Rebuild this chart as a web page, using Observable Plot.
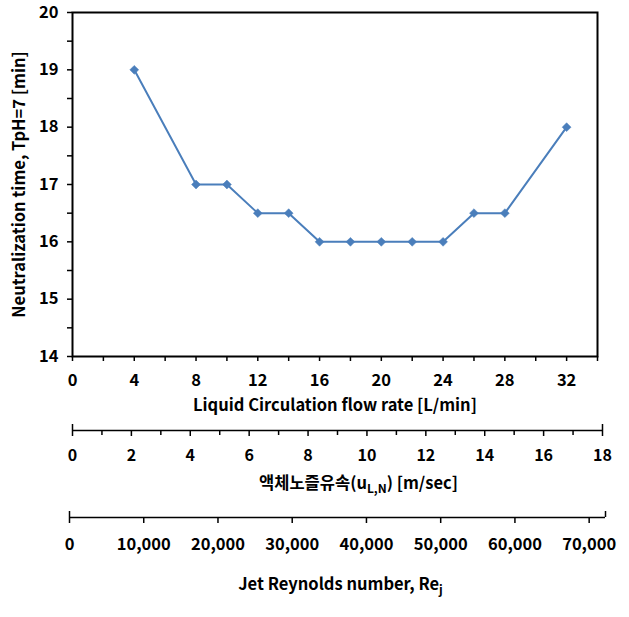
<!DOCTYPE html>
<html><head><meta charset="utf-8">
<script src="https://cdn.jsdelivr.net/npm/d3@7"></script>
<script src="https://cdn.jsdelivr.net/npm/@observablehq/plot@0.6"></script>
<style>
body{margin:0;background:#fff;}
#chart{position:relative;width:629px;height:617px;overflow:hidden;}
#chart > svg{position:absolute;left:0;}
</style></head><body><div id="chart"></div>
<script>
// ---- data ----
const flowRate = [4, 8, 10, 12, 14, 16, 18, 20, 22, 24, 26, 28, 32];
const neutralizationTime = [19, 17, 17, 16.5, 16.5, 16, 16, 16, 16, 16, 16.5, 16.5, 18];
const flowTicks = [0, 4, 8, 12, 16, 20, 24, 28, 32];
const flowMinor = [2, 6, 10, 14, 18, 22, 26, 30, 34];
const flowDomain = [0, 34];
const timeTicks = [14, 15, 16, 17, 18, 19, 20];
const timeMinor = [14.5, 15.5, 16.5, 17.5, 18.5, 19.5];
const timeDomain = [14, 20];
const velocityTicks = [0, 2, 4, 6, 8, 10, 12, 14, 16, 18];
const velocityMinor = [1, 3, 5, 7, 9, 11, 13, 15, 17];
const velocityDomain = [0, 18];
const reynoldsTicks = [0, 10000, 20000, 30000, 40000, 50000, 60000, 70000];
const reynoldsDomain = [0, 72200];
const yTitle = "Neutralization time, TpH=7 [min]";
const xTitle = "Liquid Circulation flow rate [L/min]";
const velocityTitle = ["액체노즐유속(u", "L,N", ") [m/sec]"];
const reynoldsTitle = ["Jet Reynolds number, Re", "j", ""];

const data = flowRate.map((f, i) => ({flow: f, time: neutralizationTime[i]}));
const blue = "#4a7ebb";
const style = {fontFamily: '"Noto Sans CJK KR", sans-serif', fontSize: "16px", fontWeight: "bold", color: "#000", background: "transparent", overflow: "visible"};
const chart = document.getElementById("chart");
const intFmt = d3.format("d");

const main = Plot.plot({
  width: 629, height: 420,
  marginLeft: 72, marginRight: 32, marginTop: 12, marginBottom: 64,
  style,
  x: {domain: flowDomain, label: null},
  y: {domain: timeDomain, label: null},
  marks: [
    Plot.axisY(timeMinor, {tickSize: 5, tickFormat: () => "", label: null, strokeWidth: 1.5}),
    Plot.axisY(timeTicks, {tickSize: 5, tickPadding: 9, strokeWidth: 1.5, tickFormat: intFmt, label: yTitle, labelAnchor: "center", labelOffset: 59, labelArrow: "none", fontSize: 16.5}),
    Plot.axisX(flowMinor, {tickSize: 5, tickFormat: () => "", label: null, strokeWidth: 1.5}),
    Plot.axisX(flowTicks, {tickSize: 5, tickPadding: 13, strokeWidth: 1.5, tickFormat: intFmt, label: xTitle, labelAnchor: "center", labelOffset: 54, labelArrow: "none", fontSize: 16.5}),
    Plot.frame({stroke: "#000", strokeWidth: 2}),
    Plot.line(data, {x: "flow", y: "time", stroke: blue, strokeWidth: 2}),
    Plot.dot(data, {x: "flow", y: "time", symbol: "diamond2", r: 4, fill: blue, stroke: blue, strokeWidth: 0.5})
  ]
});
main.style.top = "0px";
chart.appendChild(main);

const vel = Plot.plot({
  width: 629, height: 80,
  marginLeft: 72, marginRight: 27, marginTop: 6, marginBottom: 68,
  style,
  x: {domain: velocityDomain, label: null},
  y: {domain: [0, 1], axis: null},
  marks: [
    Plot.ruleY([0], {strokeWidth: 1.5}),
    Plot.tickX(velocityDomain, {x: d => d, strokeWidth: 1.5}),
    Plot.axisX(velocityMinor, {tickSize: 5, tickFormat: () => "", label: null, strokeWidth: 1.5}),
    Plot.axisX(velocityTicks, {tickSize: 6, tickPadding: 13, label: null, strokeWidth: 1.5}),
    Plot.text([velocityTitle.join("")], {frameAnchor: "bottom", dx: 21, dy: 53, lineAnchor: "middle", text: d => d, fill: "#000", fontSize: 16.5})
  ]
});
vel.style.top = "418px";
chart.appendChild(vel);

const rey = Plot.plot({
  width: 629, height: 112,
  marginLeft: 69, marginRight: 24, marginTop: 6, marginBottom: 100,
  style,
  x: {domain: reynoldsDomain, label: null},
  y: {domain: [0, 1], axis: null},
  marks: [
    Plot.ruleY([0], {strokeWidth: 1.5}),
    Plot.tickX(reynoldsDomain, {x: d => d, strokeWidth: 1.5}),
    Plot.axisX(reynoldsTicks, {tickSize: 6, tickPadding: 15, label: null, strokeWidth: 1.5, tickFormat: d3.format(","), fontSize: 16.5}),
    Plot.text([reynoldsTitle.join("")], {frameAnchor: "bottom", dx: 3, dy: 67, lineAnchor: "middle", text: d => d, fill: "#000", fontSize: 16.5})
  ]
});
rey.style.top = "505px";
chart.appendChild(rey);

// subscripts
function subscript(svg, parts) {
  const full = parts.join("");
  svg.querySelectorAll("text").forEach(t => {
    if (t.textContent === full) {
      const node = t.querySelector("tspan") || t;
      while (node.firstChild) node.removeChild(node.firstChild);
      const ns = "http://www.w3.org/2000/svg";
      const a = document.createElementNS(ns, "tspan"); a.textContent = parts[0]; node.appendChild(a);
      const b = document.createElementNS(ns, "tspan"); b.textContent = parts[1];
      b.setAttribute("dy", "4"); b.setAttribute("font-size", "12px"); node.appendChild(b);
      if (parts[2]) {
        const c = document.createElementNS(ns, "tspan"); c.textContent = parts[2];
        c.setAttribute("dy", "-4"); node.appendChild(c);
      }
    }
  });
}
subscript(vel, velocityTitle);
subscript(rey, reynoldsTitle);
</script></body></html>
